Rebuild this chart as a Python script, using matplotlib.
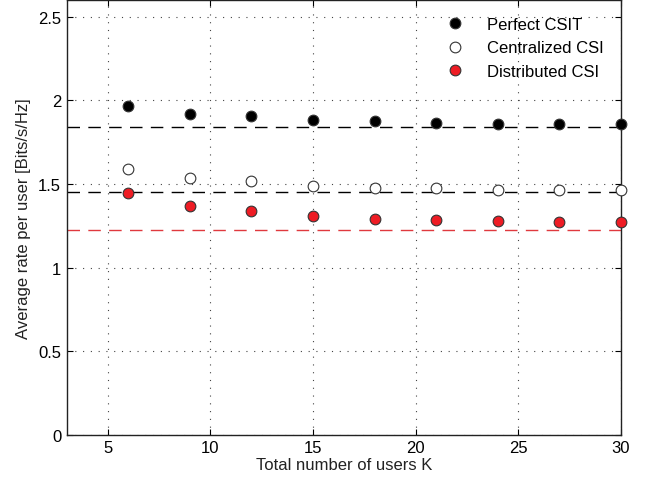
import matplotlib
matplotlib.use("Agg")
import matplotlib.pyplot as plt

plt.rcParams['font.family'] = ['Liberation Sans', 'DejaVu Sans']

# data
users = [6, 9, 12, 15, 18, 21, 24, 27, 30]
perfect_csit = [1.964, 1.916, 1.904, 1.880, 1.874, 1.865, 1.859, 1.859, 1.859]
centralized_csi = [1.591, 1.537, 1.515, 1.485, 1.477, 1.477, 1.463, 1.463, 1.463]
distributed_csi = [1.445, 1.369, 1.339, 1.308, 1.293, 1.286, 1.278, 1.274, 1.274]

# asymptotic levels (dashed)
limit_perfect = 1.842
limit_central = 1.449
limit_distrib = 1.226

fig = plt.figure(figsize=(6.52, 4.85), dpi=100)
ax = fig.add_axes([0.1023, 0.1016, 0.8502, 0.8964])

ax.axhline(limit_perfect, color='black', lw=1, dashes=(9, 6))
ax.axhline(limit_central, color='black', lw=1, dashes=(9, 6))
ax.axhline(limit_distrib, color='#e0393e', lw=1, dashes=(9, 6))

ms = 7.7
ax.plot(users, perfect_csit, 'o', ms=ms, mfc='black', mec='#333333', mew=0.8,
        label='Perfect CSIT', clip_on=False, zorder=5)
ax.plot(users, centralized_csi, 'o', ms=ms, mfc='white', mec='#333333', mew=0.8,
        label='Centralized CSI', clip_on=False, zorder=5)
ax.plot(users, distributed_csi, 'o', ms=ms, mfc='#ee1c24', mec='#333333', mew=0.8,
        label='Distributed CSI', clip_on=False, zorder=5)

ax.set_xlim(3, 30)
ax.set_ylim(0, 2.6)
ax.set_xticks([5, 10, 15, 20, 25, 30])
ax.set_yticks([0, 0.5, 1, 1.5, 2, 2.5])
ax.set_yticklabels(['0', '0.5', '1', '1.5', '2', '2.5'])
ax.grid(True, linestyle=(0, (1, 6)), color='#444444', lw=0.8)
ax.set_axisbelow(True)
ax.tick_params(direction='in', top=True, right=True, length=4, width=0.8,
               labelsize=12, colors='black', pad=4)
for s in ax.spines.values():
    s.set_linewidth(1)
    s.set_color('#222222')

ax.set_xlabel('Total number of users K', fontsize=12, color='#222222', labelpad=1)
ax.set_ylabel('Average rate per user [Bits/s/Hz]', fontsize=12, color='#222222', labelpad=5)

ax.legend(loc='upper right', bbox_to_anchor=(0.995, 0.995), frameon=False,
          fontsize=12, handletextpad=0.9, labelspacing=0.5, markerscale=1.0)

fig.savefig('out.png', dpi=100)
